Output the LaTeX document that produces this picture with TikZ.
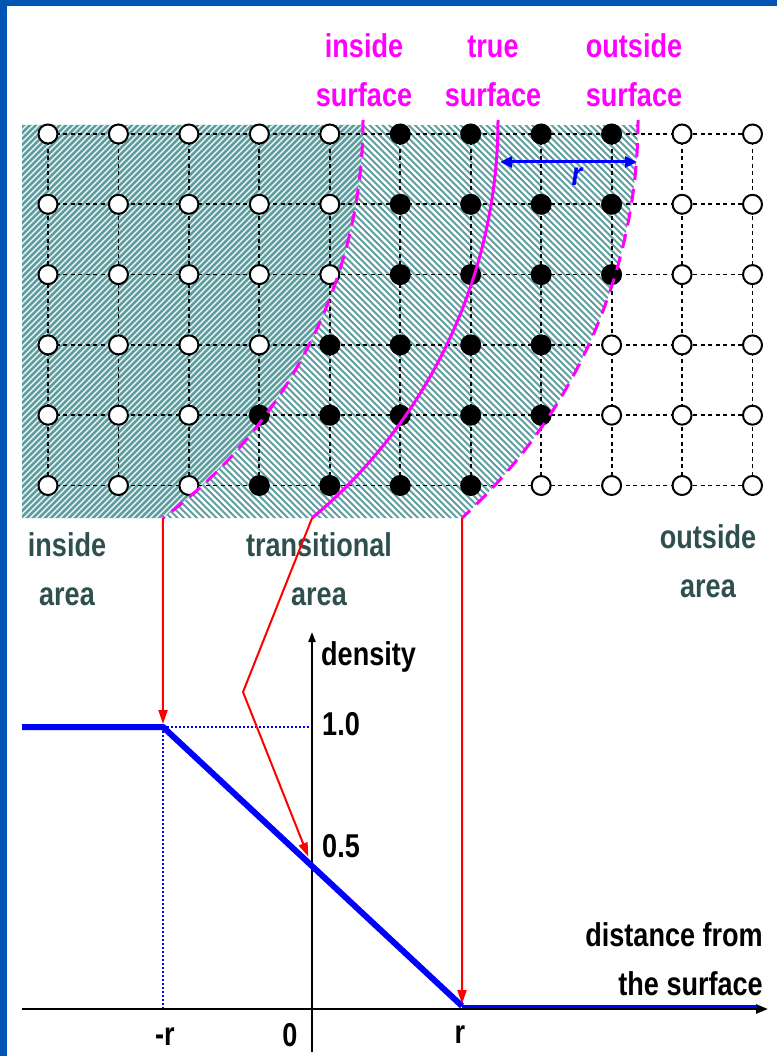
\documentclass[tikz,border=0pt]{standalone}
\usepackage{fontspec}
\newfontfamily\narrowsans{Liberation Sans}[FakeStretch=0.82]
\usepackage{xcolor}
\definecolor{frameBlue}{RGB}{0,84,180}
\definecolor{hatchTeal}{RGB}{95,158,160}
\definecolor{areaGray}{RGB}{47,79,79}
\definecolor{surfMagenta}{RGB}{255,0,255}
\usetikzlibrary{arrows.meta,calc}

\begin{document}
\begin{tikzpicture}[x=1pt,y=-1pt,
  lbl/.style={font=\narrowsans\bfseries\fontsize{33}{49}\selectfont,inner sep=0pt,align=center},
  open/.style={circle,draw=black,line width=2pt,fill=white,minimum size=19pt,inner sep=0pt},
  full/.style={open,fill=black},
  gridline/.style={black,line width=1.8pt,dash pattern=on 4pt off 3.5pt},
  surf/.style={surfMagenta,line width=3pt},
  surfdash/.style={surf,dash pattern=on 14pt off 9pt},
  ra/.style={red,line width=2pt,-{Triangle[length=14pt,width=9pt]}},
  dens/.style={blue,line width=6pt},
  ax/.style={black,line width=2.5pt,-{Triangle[length=12pt,width=9pt]}}]
  \useasboundingbox (0,0) rectangle (777,1056);
  % frame
  \fill[frameBlue] (0,0) rectangle (7,1056);
  \fill[frameBlue] (0,0) rectangle (777,6);

  % inside area: teal with white hatching
  \fill[hatchTeal] (22,125) -- (363,125) arc[start angle=0.58,end angle=53.37,radius=496] -- (22,518) -- cycle;
  \begin{scope}
    \clip (22,125) -- (363,125) arc[start angle=0.58,end angle=53.37,radius=496] -- (22,518) -- cycle;
    \foreach \k in {-380,-374,...,366} \draw[white,line width=1.3pt] (\k,520) -- ++(400,-400);
  \end{scope}
  % transitional area: teal hatching on white
  \begin{scope}
    \clip (363,125) arc[start angle=0.58,end angle=53.37,radius=496] -- (462,518)
      arc[start angle=47.71,end angle=0.53,radius=538] -- cycle;
    \foreach \k in {-240,-233.5,...,640} \draw[hatchTeal,line width=1.9pt] (\k,120) -- ++(400,400);
  \end{scope}

  % grid lines, then grid points on top
  \foreach \j in {0,...,5}
    \draw[gridline] (48,{134+70.3*\j}) -- (752.5,{134+70.3*\j});
  \foreach \i in {0,...,10}
    \draw[gridline] ({48+70.45*\i},134) -- ({48+70.45*\i},485.5);
  \foreach \j/\a/\b in {0/5/8,1/5/8,2/5/8,3/4/7,4/3/7,5/3/6}
    \foreach \i in {0,...,10} {
      \def\st{open}
      \ifnum\i<\a\else\ifnum\i>\b\else\def\st{full}\fi\fi
      \node[\st] (g-\i-\j) at ({48+70.45*\i},{134+70.3*\j}) {};
    }

  % surfaces
  \draw[surfdash] (363,120) arc[start angle=0,end angle=53.37,radius=496] coordinate (in-foot);
  \draw[surf] (498,120) arc[start angle=0,end angle=50.07,radius=519] coordinate (tr-foot);
  \draw[surfdash] (638,120) arc[start angle=0,end angle=47.71,radius=538] coordinate (out-foot);
  \node[lbl,surfMagenta,anchor=base] (in-lbl) at (364,107) {inside\\surface};
  \node[lbl,surfMagenta,anchor=base] (tr-lbl) at (493,107) {true\\surface};
  \node[lbl,surfMagenta,anchor=base] (out-lbl) at (634,107) {outside\\surface};

  % radius r
  \coordinate (r-l) at (500,162);
  \coordinate (r-r) at (637,162);
  \draw[blue,line width=3pt,{Triangle[length=12pt,width=11pt]}-{Triangle[length=12pt,width=11pt]}] (r-l) -- (r-r);
  \node[lbl,blue,font=\narrowsans\bfseries\itshape\fontsize{33}{49}\selectfont] (r-lbl) at (577,177) {r};

  % area labels
  \node[lbl,areaGray,anchor=base] (in-area) at (67,605) {inside\\area};
  \node[lbl,areaGray,anchor=base] (tr-area) at (319,605) {transitional\\area};
  \node[lbl,areaGray,anchor=base] (out-area) at (708,597) {outside\\area};

  % density graph
  \coordinate (o) at (312,1009);
  \coordinate (p-left) at (22,727);
  \coordinate (p-one) at (163,727);
  \coordinate (p-half) at (312,866);
  \coordinate (p-r) at (462,1006);
  \coordinate (bend) at (243,692);
  \draw[blue,line width=1.5pt,dash pattern=on 2pt off 2pt] (p-one) -- (p-one -| o);
  \draw[blue,line width=1.5pt,dash pattern=on 2pt off 2pt] (p-one) -- (p-one |- o);
  \draw[ax] (22,1009) -- (768,1009);
  \draw[black,line width=2pt,-{Triangle[length=10pt,width=7pt]}] (312,1052) -- (312,632);
  \draw[dens] (p-left) -- (p-one) -- (p-r);
  \draw[blue,line width=3pt] (p-r) -- (757,1006);
  \draw[ra,shorten >=3pt] (in-foot) -- (p-one);
  \draw[ra,shorten >=10pt] (tr-foot) -- (bend) -- (p-half);
  \draw[ra,shorten >=2pt] (out-foot) -- (p-r);

  \node[lbl,anchor=base west] (dens-lbl) at (321,665) {density};
  \node[lbl,anchor=base west] (one-lbl) at (322,735) {1.0};
  \node[lbl,anchor=base west] (half-lbl) at (322,857) {0.5};
  \node[lbl,anchor=base] (mr-lbl) at (165,1045) {-r};
  \node[lbl,anchor=base] (zero-lbl) at (290,1046) {0};
  \node[lbl,anchor=base] (r-axis-lbl) at (460,1043) {r};
  \node[lbl,align=right,anchor=base east] (dist-lbl) at (763,995) {distance from\\the surface};
\end{tikzpicture}
\end{document}
